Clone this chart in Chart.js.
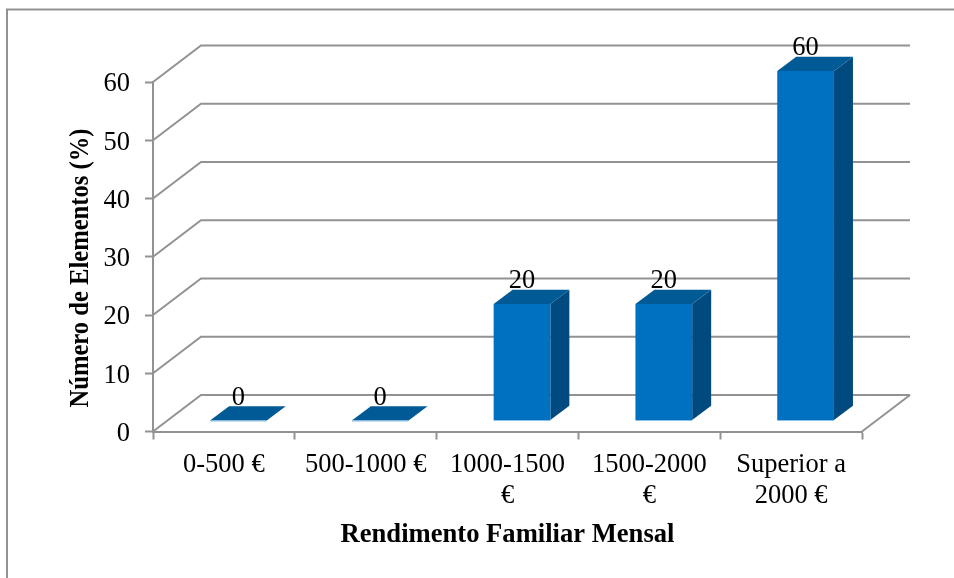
<!DOCTYPE html>
<html>
<head>
<meta charset="utf-8">
<script src="https://cdn.jsdelivr.net/npm/chart.js@4/dist/chart.umd.min.js"></script>
<style>
html, body { margin: 0; padding: 0; background: #fff; overflow: hidden; }
canvas { display: block; }
</style>
</head>
<body>
<canvas id="chart" width="954" height="578"></canvas>
<script>
// Data
const categories = [['0-500 €'], ['500-1000 €'], ['1000-1500', '€'], ['1500-2000', '€'], ['Superior a', '2000 €']];
const values = [0, 0, 20, 20, 60];
const xTitle = 'Rendimento Familiar Mensal';
const yTitle = 'Número de Elementos (%)';

const fontFamily = '"Liberation Serif", "Times New Roman", serif';
const gridColor = '#929292';
const frontColor = '#0070c0';
const topColor = '#005a96';
const sideColor = '#004a7f';
const edgeColor = '#8fc1e8';

// 3D look: wall depth, and how far bars sit inside the floor
const wallDx = 48, wallDy = -36.5;
const barDx = 14.5, barDy = -11;
const depthDx = 19, depthDy = -14.3;

const threeD = {
    id: 'threeD',
    beforeDatasetsDraw(chart) {
        const ctx = chart.ctx;
        const { x, y } = chart.scales;
        const left = x.left, right = x.right;

        // outer frame, the picture cuts it at right and bottom
        ctx.save();
        ctx.strokeStyle = gridColor;
        ctx.lineWidth = 2;
        ctx.strokeRect(7, 9.5, 1100, 1100);

        // side wall and back wall gridlines
        y.ticks.forEach(t => {
            const py = y.getPixelForValue(t.value);
            ctx.beginPath();
            ctx.moveTo(left, py);
            ctx.lineTo(left + wallDx, py + wallDy);
            ctx.lineTo(right + wallDx, py + wallDy);
            ctx.stroke();
        });
        // right edge of the floor
        const y0 = y.getPixelForValue(0);
        ctx.beginPath();
        ctx.moveTo(right, y0);
        ctx.lineTo(right + wallDx, y0 + wallDy);
        ctx.stroke();

        // top and side of each bar
        chart.getDatasetMeta(0).data.forEach(bar => {
            const x1 = bar.x - bar.width / 2 + barDx;
            const x2 = bar.x + bar.width / 2 + barDx;
            const yt = bar.y + barDy;
            const yb = bar.base + barDy;

            ctx.fillStyle = sideColor;
            ctx.beginPath();
            ctx.moveTo(x2, yt);
            ctx.lineTo(x2 + depthDx, yt + depthDy);
            ctx.lineTo(x2 + depthDx, yb + depthDy);
            ctx.lineTo(x2, yb);
            ctx.closePath();
            ctx.fill();

            ctx.fillStyle = topColor;
            ctx.beginPath();
            ctx.moveTo(x1, yt);
            ctx.lineTo(x1 + depthDx, yt + depthDy);
            ctx.lineTo(x2 + depthDx, yt + depthDy);
            ctx.lineTo(x2, yt);
            ctx.closePath();
            ctx.fill();
        });
        ctx.restore();

        // front faces are the real bars, moved into the floor
        ctx.save();
        ctx.translate(barDx, barDy);
    },
    afterDatasetsDraw(chart) {
        const ctx = chart.ctx;
        ctx.restore();

        ctx.save();
        const bars = chart.getDatasetMeta(0).data;
        bars.forEach((bar, i) => {
            // pale edge along the bottom
            ctx.strokeStyle = edgeColor;
            ctx.lineWidth = 1;
            ctx.beginPath();
            ctx.moveTo(bar.x - bar.width / 2 + barDx, bar.base + barDy + 0.5);
            ctx.lineTo(bar.x + bar.width / 2 + barDx, bar.base + barDy + 0.5);
            ctx.stroke();

            // value labels
            ctx.fillStyle = '#000';
            ctx.font = '26.5px ' + fontFamily;
            ctx.textAlign = 'center';
            ctx.textBaseline = 'alphabetic';
            ctx.fillText(String(values[i]), bar.x + barDx, bar.y + barDy - 16);
        });

        // y title, sits lower than the centre of the axis and is squeezed along its length
        ctx.translate(88, 268);
        ctx.rotate(-Math.PI / 2);
        ctx.scale(0.925, 1);
        ctx.fillStyle = '#000';
        ctx.font = 'bold 26.6px ' + fontFamily;
        ctx.textAlign = 'center';
        ctx.textBaseline = 'alphabetic';
        ctx.fillText(yTitle, 0, 0);
        ctx.restore();
    }
};

new Chart(document.getElementById('chart').getContext('2d'), {
    type: 'bar',
    data: {
        labels: categories,
        datasets: [{
            data: values,
            backgroundColor: frontColor,
            borderWidth: 0,
            barPercentage: 1,
            categoryPercentage: 0.4,
            clip: false
        }]
    },
    plugins: [threeD],
    options: {
        responsive: false,
        animation: false,
        layout: { padding: { top: 82, right: 92, left: 0, bottom: 0 } },
        plugins: {
            legend: { display: false },
            title: { display: false },
            tooltip: { enabled: false }
        },
        scales: {
            x: {
                afterFit(scale) { scale.height = 146.5; },
                grid: { display: true, drawOnChartArea: false, drawTicks: true, tickLength: 8, tickWidth: 2, tickColor: gridColor, offset: true },
                border: { color: gridColor, width: 2 },
                ticks: {
                    color: '#000',
                    padding: 10,
                    maxRotation: 0,
                    autoSkip: false,
                    font: { family: fontFamily, size: 26.5, lineHeight: 1.17 }
                },
                title: {
                    display: true,
                    text: xTitle,
                    color: '#000',
                    padding: { top: 0, bottom: 27 },
                    font: { family: fontFamily, size: 26.6, weight: 'bold', lineHeight: 1.17 }
                }
            },
            y: {
                min: 0,
                max: 60,
                afterFit(scale) { scale.width = 153; },
                grid: { display: true, drawOnChartArea: false, drawTicks: true, tickLength: 8, tickWidth: 2, tickColor: gridColor },
                border: { color: gridColor, width: 2 },
                ticks: {
                    color: '#000',
                    stepSize: 10,
                    padding: 15,
                    labelOffset: 2.5,
                    font: { family: fontFamily, size: 26.5 }
                }
            }
        }
    }
});
</script>
</body>
</html>
